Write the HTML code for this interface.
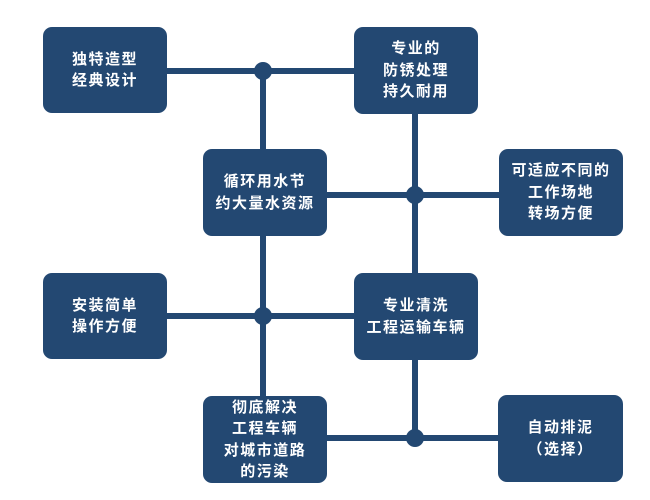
<!DOCTYPE html>
<html><head><meta charset="utf-8"><style>
html,body{margin:0;padding:0;background:#fff;}
body{width:650px;height:500px;position:relative;overflow:hidden;font-family:"Liberation Sans","Noto Sans CJK SC",sans-serif;}
.b{position:absolute;background:#234872;border-radius:9px;color:#fff;font-weight:bold;font-size:15px;line-height:21.5px;letter-spacing:1.5px;display:flex;align-items:center;justify-content:center;text-align:center;}
.l{position:absolute;background:#234872;}
.d{position:absolute;width:18px;height:18px;border-radius:50%;background:#234872;}
</style></head><body>
<div class="l" style="left:165px;top:68px;width:192px;height:6px"></div>
<div class="l" style="left:325px;top:192px;width:176px;height:6px"></div>
<div class="l" style="left:165px;top:313px;width:192px;height:6px"></div>
<div class="l" style="left:325px;top:435px;width:176px;height:6px"></div>
<div class="l" style="left:260px;top:70px;width:6px;height:328px"></div>
<div class="l" style="left:412px;top:110px;width:6px;height:330px"></div>
<div class="d" style="left:254px;top:62px"></div>
<div class="d" style="left:406px;top:186px"></div>
<div class="d" style="left:254px;top:307px"></div>
<div class="d" style="left:406px;top:429px"></div>
<div class="b" style="left:43px;top:27px;width:124px;height:86px">独特造型<br>经典设计</div>
<div class="b" style="left:354px;top:27px;width:124px;height:87px">专业的<br>防锈处理<br>持久耐用</div>
<div class="b" style="left:203px;top:149px;width:124px;height:87px">循环用水节<br>约大量水资源</div>
<div class="b" style="left:499px;top:149px;width:124px;height:87px">可适应不同的<br>工作场地<br>转场方便</div>
<div class="b" style="left:43px;top:273px;width:124px;height:86px">安装简单<br>操作方便</div>
<div class="b" style="left:354px;top:273px;width:124px;height:87px">专业清洗<br>工程运输车辆</div>
<div class="b" style="left:203px;top:396px;width:124px;height:87px">彻底解决<br>工程车辆<br>对城市道路<br>的污染</div>
<div class="b" style="left:498px;top:395px;width:125px;height:87px">自动排泥<br>（选择）</div>
</body></html>
